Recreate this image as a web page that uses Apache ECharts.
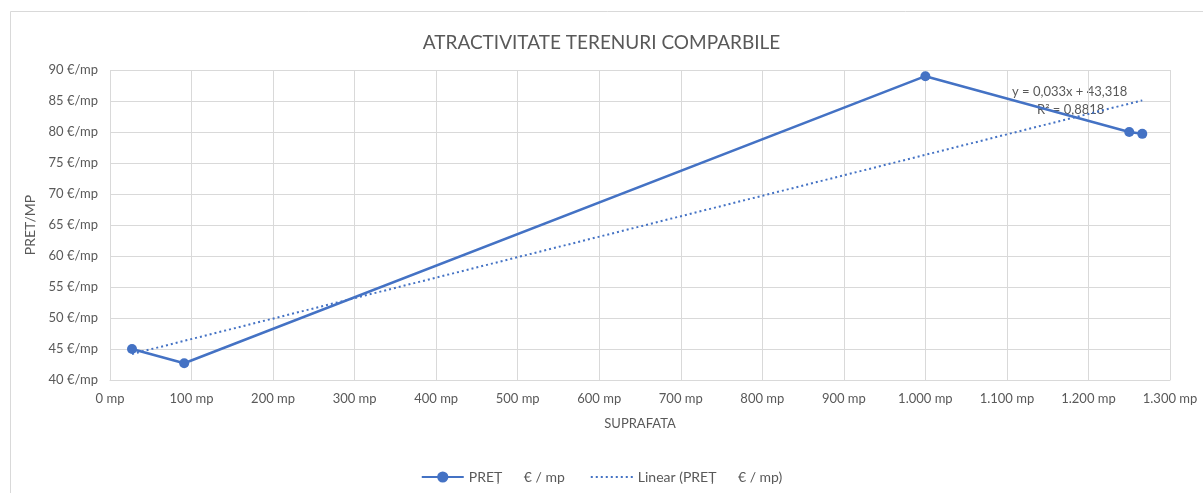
<!DOCTYPE html>
<html>
<head>
<meta charset="utf-8">
<script src="https://cdn.jsdelivr.net/npm/echarts@6/dist/echarts.min.js"></script>
<style>
  html, body { margin: 0; padding: 0; background: #fff; }
  #main { width: 1203px; height: 493px; }
</style>
</head>
<body>
<div id="main"></div>
<script>
// suprafata (mp) si pret (€/mp)
var suprafata = [27, 91, 1000, 1250, 1266];
var pret = [45, 42.7, 89, 80, 79.7];
// capetele liniei de tendinta (y = 0,033x + 43,318)
var trendX = [27, 1266];
var trendY = [44.2, 85.1];
var trendText = ['y = 0,033x + 43,318', 'R² = 0,8818'];

var font = 'Lato, "Open Sans", sans-serif';
var grey = '#595959';
var blue = '#4472C4';

function fmtMp(v) {
  return String(v).replace(/\B(?=(\d{3})+(?!\d))/g, '.') + ' mp';
}

// iconita punctata pentru legenda liniei de tendinta
var dotIcon = 'path://';
for (var k = 0; k < 9; k++) {
  dotIcon += 'M' + (k * 5) + ',0h2v2h-2z';
}

var option = {
  animation: false,
  backgroundColor: '#fff',
  title: {
    text: 'ATRACTIVITATE TERENURI COMPARBILE',
    left: 'center',
    top: 28,
    textStyle: { color: grey, fontFamily: font, fontSize: 19, fontWeight: 'normal' }
  },
  grid: { left: 110, right: 33, top: 70, bottom: 113 },
  legend: {
    bottom: 4,
    left: 'center',
    itemWidth: 42,
    itemGap: 26,
    textStyle: { color: grey, fontFamily: font, fontSize: 14 },
    data: [
      { name: 'PREȚ      € / mp' },
      { name: 'Linear (PREȚ      € / mp)', icon: dotIcon, itemStyle: { color: blue } }
    ]
  },
  xAxis: {
    type: 'value',
    min: 0, max: 1300, interval: 100,
    name: 'SUPRAFATA',
    nameLocation: 'middle',
    nameGap: 37,
    nameTextStyle: { color: grey, fontFamily: font, fontSize: 13 },
    axisLine: { show: true, lineStyle: { color: '#d9d9d9' } },
    axisTick: { show: false },
    axisLabel: { color: grey, fontFamily: font, fontSize: 13, margin: 12, formatter: fmtMp },
    splitLine: { show: true, lineStyle: { color: '#d9d9d9' } }
  },
  yAxis: {
    type: 'value',
    min: 40, max: 90, interval: 5,
    name: 'PRET/MP',
    nameLocation: 'middle',
    nameGap: 71,
    nameRotate: 90,
    nameTextStyle: { color: grey, fontFamily: font, fontSize: 14 },
    axisLine: { show: false },
    axisTick: { show: false },
    axisLabel: { color: grey, fontFamily: font, fontSize: 13, margin: 12, formatter: function (v) { return v + ' €/mp'; } },
    splitLine: { show: true, lineStyle: { color: '#d9d9d9' } }
  },
  series: [
    {
      name: 'PREȚ      € / mp',
      type: 'line',
      data: suprafata.map(function (x, i) { return [x, pret[i]]; }),
      symbol: 'circle',
      symbolSize: 10,
      itemStyle: { color: blue },
      lineStyle: { color: blue, width: 2.5 },
      z: 3
    },
    {
      name: 'Linear (PREȚ      € / mp)',
      type: 'line',
      data: trendX.map(function (x, i) { return [x, trendY[i]]; }),
      showSymbol: false,
      symbol: 'none',
      itemStyle: { color: blue },
      lineStyle: { color: blue, width: 2, type: [2, 3] },
      z: 2
    }
  ],
  graphic: [
    {
      type: 'rect',
      shape: { x: 10.5, y: 11.5, width: 1200, height: 500 },
      style: { fill: 'none', stroke: '#d9d9d9', lineWidth: 1 },
      silent: true
    },
    {
      type: 'text',
      left: 1012, top: 85,
      style: { text: trendText[0], fill: grey, font: '13px ' + font }
    },
    {
      type: 'text',
      left: 1037, top: 103,
      style: { text: trendText[1], fill: grey, font: '13px ' + font }
    }
  ]
};

echarts.init(document.getElementById('main')).setOption(option);
</script>
</body>
</html>
